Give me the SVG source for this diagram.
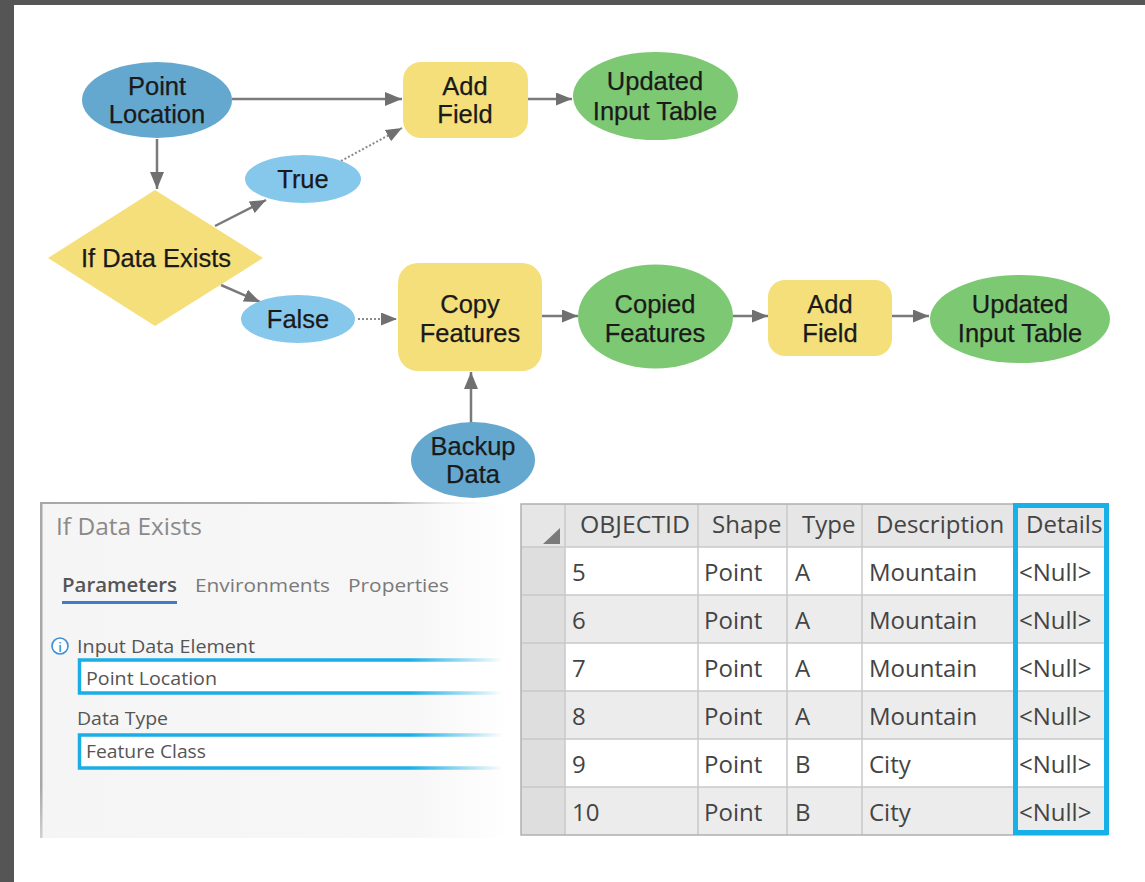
<svg xmlns="http://www.w3.org/2000/svg" width="1145" height="882" viewBox="0 0 1145 882">
  <style>
    .lbl { font-family: "Liberation Sans", Arial, sans-serif; font-size: 25.5px; fill: #1a1a1a; text-anchor: middle; stroke: #1a1a1a; stroke-width: 0.25; }
    .data { fill: #65a8cf; }
    .val { fill: #86c8ec; }
    .tool { fill: #f5df7b; }
    .out { fill: #7dc973; }
    .edge { stroke: #7a7a7a; stroke-width: 2.5; fill: none; }
    .dot { stroke: #8a8a8a; stroke-width: 2; stroke-dasharray: 2 2; fill: none; }
    .ui { font-family: "Open Sans", "Noto Sans", sans-serif; }
    .cell { font-family: "Open Sans", "Noto Sans", sans-serif; font-size: 24px; fill: #444; }
    .grid { stroke: #c9c9c9; stroke-width: 1.5; }
  </style>
  <defs>
    <marker id="arr" markerUnits="userSpaceOnUse" markerWidth="17" markerHeight="14" refX="17" refY="7" orient="auto">
      <path d="M0,0 L17,7 L0,14 z" fill="#707070"/>
    </marker>
    <marker id="arrs" markerUnits="userSpaceOnUse" markerWidth="16" markerHeight="13" refX="16" refY="6.5" orient="auto">
      <path d="M0,0 L16,6.5 L0,13 z" fill="#707070"/>
    </marker>
    <linearGradient id="panelFill" gradientUnits="userSpaceOnUse" x1="41" y1="0" x2="510" y2="0">
      <stop offset="0" stop-color="#f5f5f5"/>
      <stop offset="0.8" stop-color="#f7f7f7"/>
      <stop offset="1" stop-color="#ffffff"/>
    </linearGradient>
    <linearGradient id="panelEdge" gradientUnits="userSpaceOnUse" x1="41" y1="0" x2="505" y2="0">
      <stop offset="0" stop-color="#a8a8a8"/>
      <stop offset="0.75" stop-color="#b0b0b0"/>
      <stop offset="1" stop-color="#ffffff" stop-opacity="0"/>
    </linearGradient>
    <linearGradient id="panelSide" gradientUnits="userSpaceOnUse" x1="0" y1="503" x2="0" y2="838">
      <stop offset="0" stop-color="#a8a8a8"/>
      <stop offset="0.85" stop-color="#a8a8a8"/>
      <stop offset="1" stop-color="#d0d0d0"/>
    </linearGradient>
    <linearGradient id="boxEdge" gradientUnits="userSpaceOnUse" x1="78" y1="0" x2="503" y2="0">
      <stop offset="0" stop-color="#19aee6"/>
      <stop offset="0.78" stop-color="#19aee6"/>
      <stop offset="1" stop-color="#19aee6" stop-opacity="0"/>
    </linearGradient>
  </defs>

  <!-- page background and dark frame -->
  <rect x="0" y="0" width="1145" height="882" fill="#ffffff"/>
  <rect x="0" y="0" width="1145" height="5" fill="#555555"/>
  <rect x="0" y="0" width="14" height="882" fill="#555555"/>

  <!-- connectors -->
  <g id="connectors">
    <line class="edge" x1="232" y1="99" x2="402" y2="99" marker-end="url(#arr)"/>
    <line class="edge" x1="157" y1="139" x2="157" y2="189" marker-end="url(#arr)"/>
    <line class="edge" x1="215" y1="226" x2="266" y2="200" marker-end="url(#arrs)"/>
    <line class="edge" x1="221" y1="285" x2="260" y2="302" marker-end="url(#arrs)"/>
    <line class="dot" x1="341" y1="161" x2="402" y2="128" marker-end="url(#arrs)"/>
    <line class="dot" x1="358" y1="319" x2="397" y2="319" marker-end="url(#arrs)"/>
    <line class="edge" x1="528" y1="99" x2="572" y2="99" marker-end="url(#arrs)"/>
    <line class="edge" x1="542" y1="316" x2="578" y2="316" marker-end="url(#arrs)"/>
    <line class="edge" x1="733" y1="316" x2="768" y2="316" marker-end="url(#arrs)"/>
    <line class="edge" x1="892" y1="316" x2="929" y2="316" marker-end="url(#arrs)"/>
    <line class="edge" x1="471" y1="423" x2="471" y2="372" marker-end="url(#arr)"/>
  </g>

  <g id="point-location">
    <ellipse class="data" cx="157" cy="100" rx="75" ry="38"/>
    <text class="lbl" x="157" y="95">Point</text>
    <text class="lbl" x="157" y="123">Location</text>
  </g>

  <g id="if-data-exists">
    <polygon class="tool" points="155,190 263,258 155,326 48,258"/>
    <text class="lbl" x="156" y="267">If Data Exists</text>
  </g>

  <g id="true">
    <ellipse class="val" cx="303" cy="179" rx="58" ry="24"/>
    <text class="lbl" x="303" y="188">True</text>
  </g>

  <g id="false">
    <ellipse class="val" cx="298" cy="319" rx="57" ry="24"/>
    <text class="lbl" x="298" y="328">False</text>
  </g>

  <g id="add-field-1">
    <rect class="tool" x="403" y="62" width="125" height="76" rx="18"/>
    <text class="lbl" x="465" y="95">Add</text>
    <text class="lbl" x="465" y="123">Field</text>
  </g>

  <g id="updated-input-table-1">
    <ellipse class="out" cx="655.5" cy="96" rx="82.5" ry="44"/>
    <text class="lbl" x="655" y="90">Updated</text>
    <text class="lbl" x="655" y="120">Input Table</text>
  </g>

  <g id="copy-features">
    <rect class="tool" x="398" y="263" width="144" height="108" rx="20"/>
    <text class="lbl" x="470" y="313">Copy</text>
    <text class="lbl" x="470" y="342">Features</text>
  </g>

  <g id="copied-features">
    <ellipse class="out" cx="655.5" cy="316.5" rx="77.5" ry="52"/>
    <text class="lbl" x="655" y="313">Copied</text>
    <text class="lbl" x="655" y="342">Features</text>
  </g>

  <g id="add-field-2">
    <rect class="tool" x="768" y="280" width="124" height="76" rx="17"/>
    <text class="lbl" x="830" y="313">Add</text>
    <text class="lbl" x="830" y="342">Field</text>
  </g>

  <g id="updated-input-table-2">
    <ellipse class="out" cx="1020" cy="319" rx="90" ry="44"/>
    <text class="lbl" x="1020" y="313">Updated</text>
    <text class="lbl" x="1020" y="342">Input Table</text>
  </g>

  <g id="backup-data">
    <ellipse class="data" cx="473" cy="460" rx="62" ry="38"/>
    <text class="lbl" x="473" y="455">Backup</text>
    <text class="lbl" x="473" y="483">Data</text>
  </g>

  <!-- tool parameter panel -->
  <g id="parameter-panel">
    <rect x="41" y="503" width="470" height="335" fill="url(#panelFill)"/>
    <rect x="41" y="502" width="464" height="2" fill="url(#panelEdge)"/>
    <rect x="40" y="502" width="2.5" height="336" fill="url(#panelSide)"/>
    <text class="ui" x="56" y="535" font-size="24" fill="#8a8a8a" textLength="146" lengthAdjust="spacingAndGlyphs">If Data Exists</text>
    <text class="ui" x="62" y="592" font-size="19" fill="#555" font-weight="600" textLength="115" lengthAdjust="spacingAndGlyphs">Parameters</text>
    <rect x="62" y="601" width="115" height="3" fill="#3f7cc4"/>
    <text class="ui" x="195" y="592" font-size="19" fill="#7a7a7a" textLength="135" lengthAdjust="spacingAndGlyphs">Environments</text>
    <text class="ui" x="348" y="592" font-size="19" fill="#7a7a7a" textLength="101" lengthAdjust="spacingAndGlyphs">Properties</text>
    <circle cx="60" cy="646" r="8" fill="#ffffff" stroke="#3d8fd6" stroke-width="1.6"/>
    <text class="ui" x="60" y="651.5" font-size="13" fill="#3d8fd6" text-anchor="middle" font-weight="600">i</text>
    <text class="ui" x="77" y="653" font-size="18" fill="#555" textLength="178" lengthAdjust="spacingAndGlyphs">Input Data Element</text>
    <rect x="79" y="660" width="424" height="33" fill="#ffffff"/>
    <path d="M503,660 H79.5 V693 H503" fill="none" stroke="url(#boxEdge)" stroke-width="3.5"/>
    <text class="ui" x="86" y="685" font-size="18" fill="#555" textLength="131" lengthAdjust="spacingAndGlyphs">Point Location</text>
    <text class="ui" x="77" y="725" font-size="18" fill="#555" textLength="91" lengthAdjust="spacingAndGlyphs">Data Type</text>
    <rect x="79" y="735" width="424" height="33" fill="#ffffff"/>
    <path d="M503,735 H79.5 V768 H503" fill="none" stroke="url(#boxEdge)" stroke-width="3.5"/>
    <text class="ui" x="86" y="758" font-size="18" fill="#555" textLength="120" lengthAdjust="spacingAndGlyphs">Feature Class</text>
  </g>

  <!-- attribute table -->
  <g id="attribute-table">
    <rect x="521" y="504" width="586" height="331" fill="#ffffff"/>
    <rect x="521" y="504" width="586" height="43" fill="#e6e6e6"/>
    <rect x="521" y="595" width="586" height="48" fill="#ececec"/>
    <rect x="521" y="691" width="586" height="48" fill="#ececec"/>
    <rect x="521" y="787" width="586" height="48" fill="#ececec"/>
    <rect x="521" y="547" width="44" height="288" fill="#dedede"/>
    <polygon points="543,544 560,544 560,528" fill="#7a7a7a"/>
    <g class="grid">
      <line x1="521" y1="547" x2="1107" y2="547"/>
      <line x1="521" y1="595" x2="1107" y2="595"/>
      <line x1="521" y1="643" x2="1107" y2="643"/>
      <line x1="521" y1="691" x2="1107" y2="691"/>
      <line x1="521" y1="739" x2="1107" y2="739"/>
      <line x1="521" y1="787" x2="1107" y2="787"/>
      <line x1="565" y1="504" x2="565" y2="835"/>
      <line x1="698" y1="504" x2="698" y2="835"/>
      <line x1="787" y1="504" x2="787" y2="835"/>
      <line x1="862" y1="504" x2="862" y2="835"/>
    </g>
    <rect x="521" y="504" width="586" height="331" fill="none" stroke="#b0b0b0" stroke-width="1.5"/>

    <text class="cell" x="580" y="533" textLength="110" lengthAdjust="spacingAndGlyphs">OBJECTID</text>
    <text class="cell" x="712" y="533">Shape</text>
    <text class="cell" x="802" y="533">Type</text>
    <text class="cell" x="876" y="533">Description</text>
    <text class="cell" x="1026" y="533">Details</text>

    <text class="cell" x="572" y="581">5</text>
    <text class="cell" x="704" y="581">Point</text>
    <text class="cell" x="795" y="581">A</text>
    <text class="cell" x="869" y="581">Mountain</text>
    <text class="cell" x="1019" y="581">&lt;Null&gt;</text>

    <text class="cell" x="572" y="629">6</text>
    <text class="cell" x="704" y="629">Point</text>
    <text class="cell" x="795" y="629">A</text>
    <text class="cell" x="869" y="629">Mountain</text>
    <text class="cell" x="1019" y="629">&lt;Null&gt;</text>

    <text class="cell" x="572" y="677">7</text>
    <text class="cell" x="704" y="677">Point</text>
    <text class="cell" x="795" y="677">A</text>
    <text class="cell" x="869" y="677">Mountain</text>
    <text class="cell" x="1019" y="677">&lt;Null&gt;</text>

    <text class="cell" x="572" y="725">8</text>
    <text class="cell" x="704" y="725">Point</text>
    <text class="cell" x="795" y="725">A</text>
    <text class="cell" x="869" y="725">Mountain</text>
    <text class="cell" x="1019" y="725">&lt;Null&gt;</text>

    <text class="cell" x="572" y="773">9</text>
    <text class="cell" x="704" y="773">Point</text>
    <text class="cell" x="795" y="773">B</text>
    <text class="cell" x="869" y="773">City</text>
    <text class="cell" x="1019" y="773">&lt;Null&gt;</text>

    <text class="cell" x="572" y="821">10</text>
    <text class="cell" x="704" y="821">Point</text>
    <text class="cell" x="795" y="821">B</text>
    <text class="cell" x="869" y="821">City</text>
    <text class="cell" x="1019" y="821">&lt;Null&gt;</text>

    <!-- highlighted Details column -->
    <rect x="1015.5" y="505.5" width="91" height="327" fill="none" stroke="#17b1e8" stroke-width="5"/>
  </g>
</svg>
